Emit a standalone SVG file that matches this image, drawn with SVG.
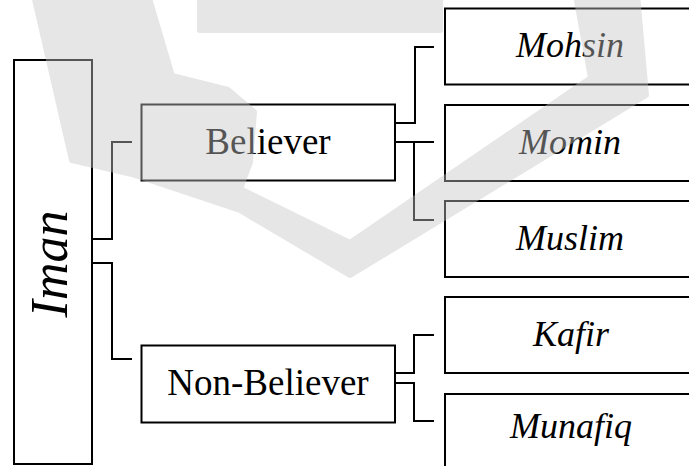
<svg xmlns="http://www.w3.org/2000/svg" width="689" height="466" viewBox="0 0 689 466">
  <style>
    .box { fill: none; stroke: #000; stroke-width: 2; }
    .link { fill: none; stroke: #000; stroke-width: 2; }
    text { font-family: "Liberation Serif", "Times New Roman", serif; fill: #000; text-anchor: middle; }
    .up { font-size: 37px; }
    .it { font-size: 36px; font-style: italic; }
    .mark { fill: #c6c6c6; stroke: #c6c6c6; stroke-width: 6; stroke-linejoin: round; }
  </style>
  <rect width="689" height="466" fill="#fff"/>

  <g id="iman">
    <rect class="box" x="14" y="60" width="78" height="404"/>
    <text class="it" style="font-size:52px" transform="translate(67 264) rotate(-90)">Iman</text>
  </g>

  <g id="believer">
    <rect class="box" x="141.5" y="104.5" width="253.5" height="76"/>
    <text class="up" x="268" y="154">Believer</text>
  </g>

  <g id="non-believer">
    <rect class="box" x="141.5" y="345.5" width="253.5" height="77"/>
    <text class="up" x="268" y="395">Non-Believer</text>
  </g>

  <g id="mohsin">
    <rect class="box" x="445" y="8.5" width="260" height="76"/>
    <text class="it" x="570" y="57">Mohsin</text>
  </g>
  <g id="momin">
    <rect class="box" x="445" y="105" width="260" height="76"/>
    <text class="it" x="570" y="154">Momin</text>
  </g>
  <g id="muslim">
    <rect class="box" x="445" y="201" width="260" height="76"/>
    <text class="it" x="570" y="250">Muslim</text>
  </g>
  <g id="kafir">
    <rect class="box" x="445" y="297" width="260" height="76"/>
    <text class="it" x="571" y="346">Kafir</text>
  </g>
  <g id="munafiq">
    <rect class="box" x="445" y="394" width="260" height="80"/>
    <text class="it" x="571" y="438">Munafiq</text>
  </g>

  <g id="connectors">
    <path class="link" d="M92,239 H112 V142 H132"/>
    <path class="link" d="M92,263 H112 V359 H132"/>
    <path class="link" d="M395,123 H415 V47 H434"/>
    <path class="link" d="M395,142 H434"/>
    <path class="link" d="M414,142 V220 H434"/>
    <path class="link" d="M395,373 H414 V335 H434"/>
    <path class="link" d="M395,383 H414 V421 H434"/>
  </g>

  <!-- faint emblem laid over the chart -->
  <g id="emblem" opacity="0.43">
    <path class="mark" d="M34,-5 L72,160 L132,174 L240,210 L350,275 L646,95 L637,-5 L576,-5 L591,78 L350,243 L240,189 L250,162 L254,112 L228,90 L172,76 L148,-5 Z"/>
    <path class="mark" d="M200,-5 L440,-5 L440,30 L200,30 Z"/>
  </g>
</svg>
